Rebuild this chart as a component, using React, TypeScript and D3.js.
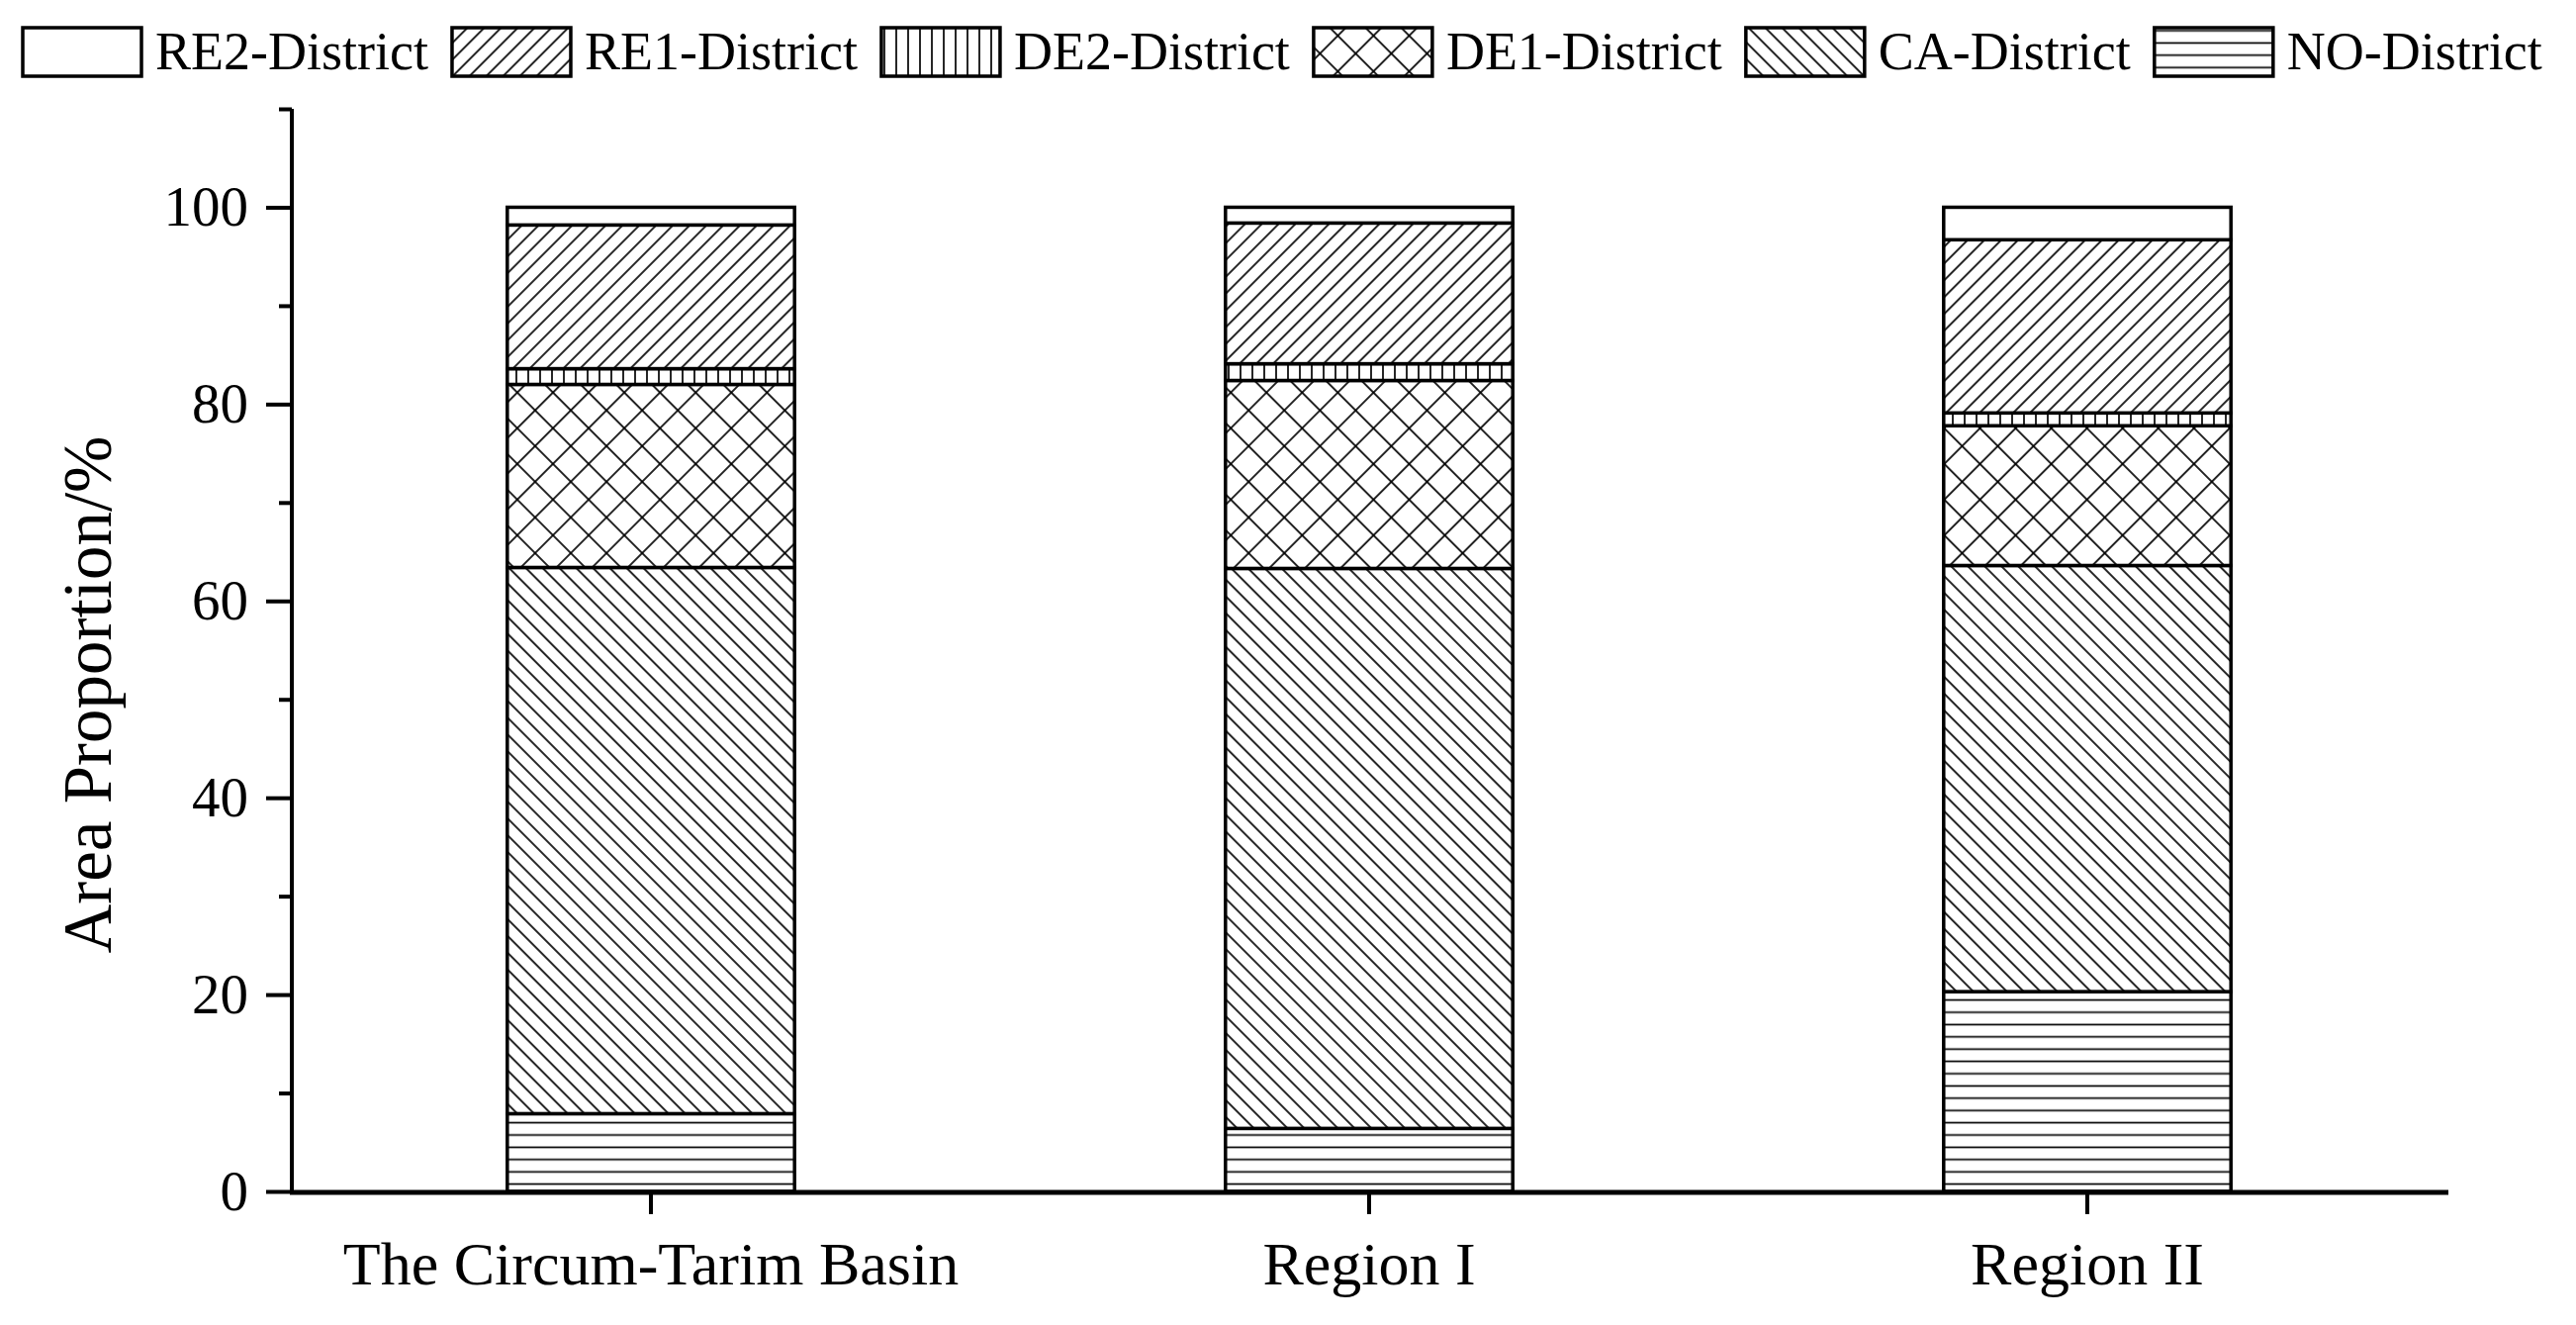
import React, { useEffect, useRef } from 'react';
import * as d3 from 'd3';

const categories = ['The Circum-Tarim Basin', 'Region I', 'Region II'];

// stacked bottom -> top
const noDistrict = [7.9, 6.4, 20.3];
const caDistrict = [55.5, 56.9, 43.3];
const de1District = [18.6, 19.1, 14.2];
const de2District = [1.6, 1.7, 1.3];
const re1District = [14.6, 14.3, 17.6];
const re2District = [1.8, 1.6, 3.3];

const seriesKeys = ['NO', 'CA', 'DE1', 'DE2', 'RE1', 'RE2'];
const seriesNames = ['NO-District', 'CA-District', 'DE1-District', 'DE2-District', 'RE1-District', 'RE2-District'];
const legendOrder = ['RE2', 'RE1', 'DE2', 'DE1', 'CA', 'NO'];

const majorTicks = [0, 20, 40, 60, 80, 100];
const minorTicks = [10, 30, 50, 70, 90, 110];

const FONT = '"Liberation Serif", "Times New Roman", serif';

export default function App() {
    const ref = useRef<SVGSVGElement>(null);

    useEffect(() => {
        const width = 2604, height = 1339;
        const svg = d3.select(ref.current);
        svg.selectAll('*').remove();
        svg.attr('width', width).attr('height', height);

        const table = categories.map((c, i) => ({
            name: c,
            NO: noDistrict[i],
            CA: caDistrict[i],
            DE1: de1District[i],
            DE2: de2District[i],
            RE1: re1District[i],
            RE2: re2District[i],
        }));

        // hatch patterns
        const defs = svg.append('defs');
        const hatch = (id: string, size: number, angle: number, cross = false) => {
            const p = defs.append('pattern')
                .attr('id', id)
                .attr('patternUnits', 'userSpaceOnUse')
                .attr('width', size)
                .attr('height', size)
                .attr('patternTransform', `rotate(${angle})`);
            p.append('rect').attr('width', size).attr('height', size).attr('fill', '#fff');
            p.append('line')
                .attr('x1', 0).attr('y1', size / 2).attr('x2', size).attr('y2', size / 2)
                .attr('stroke', '#000').attr('stroke-width', 1.7);
            if (cross) {
                p.append('line')
                    .attr('x1', size / 2).attr('y1', 0).attr('x2', size / 2).attr('y2', size)
                    .attr('stroke', '#000').attr('stroke-width', 1.7);
            }
        };
        hatch('pat-NO', 12.4, 0);
        hatch('pat-CA', 12, 45);
        hatch('pat-DE1', 25.5, 45, true);
        hatch('pat-DE2', 12, 90);
        hatch('pat-RE1', 12, -45);
        const fillOf = (k: string) => (k === 'RE2' ? '#fff' : `url(#pat-${k})`);

        // scales
        const x = d3.scaleBand()
            .domain(categories)
            .range([295, 2473])
            .padding(0);
        const y = d3.scaleLinear()
            .domain([0, 110])
            .range([1204, 110]);
        const barW = x.bandwidth() * 0.4;

        const stacked = d3.stack().keys(seriesKeys)(table as any);

        // bars
        const layers = svg.selectAll('.layer')
            .data(stacked)
            .enter()
            .append('g')
            .attr('class', 'layer');
        layers.selectAll('rect')
            .data((d: any) => d.map((v: any) => ({ v, key: d.key })))
            .enter()
            .append('rect')
            .attr('x', (d: any) => (x(d.v.data.name) as number) + x.bandwidth() / 2 - barW / 2)
            .attr('y', (d: any) => y(d.v[1]))
            .attr('width', barW)
            .attr('height', (d: any) => y(d.v[0]) - y(d.v[1]))
            .attr('fill', (d: any) => fillOf(d.key))
            .attr('stroke', '#000')
            .attr('stroke-width', 3.5);

        // y axis
        const yAxis = svg.append('g')
            .attr('transform', 'translate(295,0)')
            .call(d3.axisLeft(y).tickValues(majorTicks).tickSize(26).tickSizeOuter(0).tickPadding(18));
        yAxis.select('.domain').attr('stroke-width', 4).attr('d', `M0,${y(110)}V${y(0) + 3}`);
        yAxis.selectAll('.tick line').attr('stroke-width', 4);
        yAxis.selectAll('.tick text')
            .attr('font-family', FONT)
            .attr('font-size', 57)
            .attr('fill', '#000');

        const yMinor = svg.append('g')
            .attr('transform', 'translate(295,0)')
            .call(d3.axisLeft(y).tickValues(minorTicks).tickSize(13).tickFormat(() => ''));
        yMinor.select('.domain').remove();
        yMinor.selectAll('.tick line').attr('stroke-width', 4);

        // x axis
        const xAxis = svg.append('g')
            .attr('transform', 'translate(0,1205)')
            .call(d3.axisBottom(x).tickSize(22).tickSizeOuter(0).tickPadding(27));
        xAxis.select('.domain').attr('stroke-width', 5).attr('d', `M293,0H2475`);
        xAxis.selectAll('.tick line').attr('stroke-width', 4);
        xAxis.selectAll('.tick text')
            .attr('font-family', FONT)
            .attr('font-size', 62)
            .attr('fill', '#000');

        // y title
        svg.append('text')
            .attr('transform', 'translate(112,702) rotate(-90)')
            .attr('text-anchor', 'middle')
            .attr('font-family', FONT)
            .attr('font-size', 69)
            .text('Area Proportion/%');

        // legend
        let lx = 23;
        legendOrder.forEach((k) => {
            const name = seriesNames[seriesKeys.indexOf(k)];
            svg.append('rect')
                .attr('x', lx)
                .attr('y', 28)
                .attr('width', 120)
                .attr('height', 49)
                .attr('fill', fillOf(k))
                .attr('stroke', '#000')
                .attr('stroke-width', 3.5);
            const t = svg.append('text')
                .attr('x', lx + 134)
                .attr('y', 70)
                .attr('font-family', FONT)
                .attr('font-size', 54)
                .text(name);
            const w = (t.node() as SVGTextElement).getComputedTextLength();
            lx = lx + 134 + w + 24;
        });
    }, []);

    return (
        <svg ref={ref} style={{ position: 'absolute', left: 0, top: 0, background: '#fff' }} />
    );
}
